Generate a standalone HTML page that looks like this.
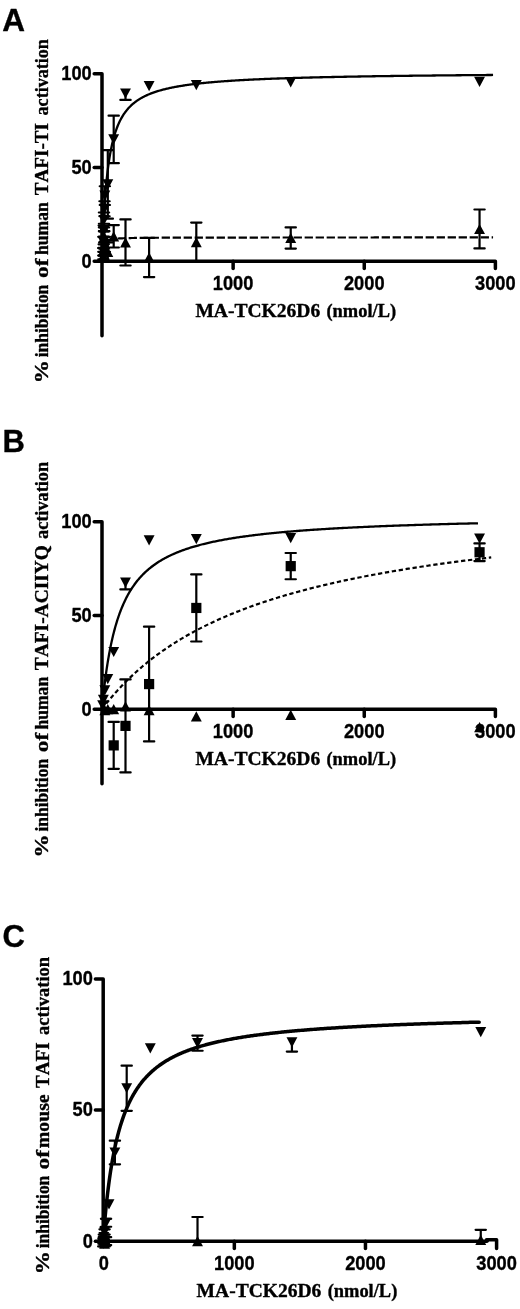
<!DOCTYPE html><html><head><meta charset="utf-8"><title>Figure</title><style>html,body{margin:0;padding:0;background:#fff}svg{display:block;filter:blur(.3px)}text{stroke:#000;stroke-width:.35px;stroke-linejoin:round}</style></head><body>
<svg width="520" height="1309" viewBox="0 0 520 1309">
<rect width="520" height="1309" fill="#fff"/>
<text x="2.2" y="30.5" font-family='"Liberation Sans", Arial, Helvetica, sans-serif' font-weight="bold" font-size="31.5">A</text>
<path d="M94.19,73.85H102.00V335.81" stroke="#000" stroke-width="3.5" fill="none" stroke-linecap="round" stroke-linejoin="round"/>
<path d="M94.19,261.20H495.39V268.51" stroke="#000" stroke-width="3.5" fill="none" stroke-linecap="round" stroke-linejoin="round"/>
<path d="M94.19,167.52H102.00" stroke="#000" stroke-width="3.5" fill="none" stroke-linecap="round" stroke-linejoin="round"/>
<path d="M233.13,261.20V268.51" stroke="#000" stroke-width="3.5" fill="none" stroke-linecap="round" stroke-linejoin="round"/>
<path d="M364.26,261.20V268.51" stroke="#000" stroke-width="3.5" fill="none" stroke-linecap="round" stroke-linejoin="round"/>
<text x="81.55" y="267.65" textLength="10.15" lengthAdjust="spacingAndGlyphs" font-family='"Liberation Sans", Arial, Helvetica, sans-serif' font-weight="bold" font-size="19.5">0</text>
<text x="71.40" y="173.97" textLength="20.30" lengthAdjust="spacingAndGlyphs" font-family='"Liberation Sans", Arial, Helvetica, sans-serif' font-weight="bold" font-size="19.5">50</text>
<text x="61.25" y="80.30" textLength="30.45" lengthAdjust="spacingAndGlyphs" font-family='"Liberation Sans", Arial, Helvetica, sans-serif' font-weight="bold" font-size="19.5">100</text>
<text x="212.83" y="289.70" textLength="40.60" lengthAdjust="spacingAndGlyphs" font-family='"Liberation Sans", Arial, Helvetica, sans-serif' font-weight="bold" font-size="19.5">1000</text>
<text x="343.96" y="289.70" textLength="40.60" lengthAdjust="spacingAndGlyphs" font-family='"Liberation Sans", Arial, Helvetica, sans-serif' font-weight="bold" font-size="19.5">2000</text>
<text x="475.09" y="289.70" textLength="40.60" lengthAdjust="spacingAndGlyphs" font-family='"Liberation Sans", Arial, Helvetica, sans-serif' font-weight="bold" font-size="19.5">3000</text>
<text y="317.30" style="font-kerning:none" font-family='"Liberation Serif", "Times New Roman", Times, serif' font-weight="bold" font-size="17.8"><tspan x="195.40" textLength="124.79" lengthAdjust="spacingAndGlyphs">MA-TCK26D6</tspan> <tspan x="326.46" textLength="69.63" lengthAdjust="spacingAndGlyphs">(nmol/L)</tspan></text>
<text transform="translate(47.9,0) rotate(-90)" y="0" style="font-kerning:none" font-family='"Liberation Serif", "Times New Roman", Times, serif' font-weight="bold" font-size="19.7"><tspan x="-383.31" textLength="23.09" lengthAdjust="spacingAndGlyphs">%</tspan> <tspan x="-357.35" textLength="72.66" lengthAdjust="spacingAndGlyphs">inhibition</tspan> <tspan x="-278.01" textLength="19.61" lengthAdjust="spacingAndGlyphs">of</tspan> <tspan x="-255.05" textLength="52.76" lengthAdjust="spacingAndGlyphs">human</tspan> <tspan x="-195.19" textLength="72.15" lengthAdjust="spacingAndGlyphs">TAFI-TI</tspan> <tspan x="-115.44" textLength="76.35" lengthAdjust="spacingAndGlyphs">activation</tspan></text>
<g fill="#000">
<polyline points="101.90,261.20 101.90,261.13 101.91,260.91 101.92,260.54 101.94,260.03 101.96,259.38 101.99,258.59 102.02,257.67 102.06,256.61 102.10,255.43 102.14,254.13 102.20,252.71 102.25,251.18 102.31,249.54 102.38,247.81 102.45,245.99 102.53,244.09 102.61,242.10 102.69,240.05 102.78,237.93 102.88,235.75 102.98,233.53 103.08,231.26 103.19,228.95 103.31,226.61 103.43,224.24 103.55,221.85 103.68,219.44 103.82,217.03 103.96,214.61 104.10,212.19 104.25,209.77 104.40,207.36 104.56,204.95 104.73,202.57 104.89,200.19 105.07,197.84 105.25,195.51 105.43,193.21 105.62,190.93 105.81,188.68 106.01,186.45 106.21,184.26 106.42,182.11 106.63,179.98 106.85,177.89 107.07,175.84 107.30,173.82 107.53,171.84 107.77,169.89 108.01,167.98 108.26,166.11 108.51,164.27 108.77,162.47 109.03,160.71 109.30,158.98 109.57,157.29 109.84,155.63 110.12,154.01 110.41,152.43 110.70,150.88 111.00,149.36 111.30,147.88 111.60,146.43 111.91,145.01 112.23,143.62 112.55,142.27 112.87,140.95 113.20,139.65 113.54,138.39 113.88,137.15 114.22,135.95 114.57,134.77 114.93,133.62 115.29,132.49 115.65,131.39 116.02,130.32 116.39,129.27 116.77,128.24 117.16,127.24 117.55,126.26 117.94,125.30 118.34,124.37 118.74,123.46 119.15,122.56 119.56,121.69 119.98,120.84 120.40,120.00 120.83,119.19 121.26,118.39 121.70,117.62 122.15,116.85 122.59,116.11 123.04,115.38 123.50,114.67 123.96,113.98 124.43,113.30 124.90,112.63 125.38,111.98 125.86,111.34 126.35,110.72 126.84,110.11 127.34,109.51 127.84,108.93 128.34,108.36 128.85,107.80 129.37,107.25 129.89,106.72 130.42,106.19 130.95,105.68 131.48,105.17 132.02,104.68 132.57,104.20 133.12,103.73 133.67,103.26 134.23,102.81 134.80,102.37 135.37,101.93 135.94,101.50 136.52,101.09 137.10,100.68 137.69,100.27 138.29,99.88 138.89,99.49 139.49,99.12 140.10,98.74 140.71,98.38 141.33,98.02 141.95,97.67 142.58,97.33 143.22,96.99 143.85,96.66 144.50,96.34 145.15,96.02 145.80,95.71 146.46,95.40 147.12,95.10 147.79,94.80 148.46,94.51 149.14,94.23 149.82,93.95 150.50,93.67 151.20,93.40 151.89,93.14 152.59,92.88 153.30,92.62 154.01,92.37 154.73,92.12 155.45,91.88 156.18,91.64 156.91,91.41 157.64,91.17 158.38,90.95 159.13,90.73 159.88,90.51 160.64,90.29 161.40,90.08 162.16,89.87 162.93,89.67 163.71,89.47 164.49,89.27 165.27,89.07 166.06,88.88 166.85,88.69 167.65,88.51 168.46,88.32 169.27,88.15 170.08,87.97 170.90,87.79 171.72,87.62 172.55,87.45 173.39,87.29 174.23,87.13 175.07,86.96 175.92,86.81 176.77,86.65 177.63,86.50 178.49,86.35 179.36,86.20 180.23,86.05 181.11,85.91 181.99,85.76 182.88,85.62 183.77,85.49 184.67,85.35 185.57,85.22 186.48,85.08 187.39,84.95 188.31,84.82 189.23,84.70 190.16,84.57 191.09,84.45 192.02,84.33 192.96,84.21 193.91,84.09 194.86,83.98 195.82,83.86 196.78,83.75 197.74,83.64 198.71,83.53 199.69,83.42 200.67,83.31 201.66,83.21 202.65,83.10 203.64,83.00 204.64,82.90 205.65,82.80 206.66,82.70 207.67,82.60 208.69,82.51 209.71,82.41 210.74,82.32 211.78,82.23 212.82,82.14 213.86,82.05 214.91,81.96 215.96,81.87 217.02,81.79 218.08,81.70 219.15,81.62 220.23,81.53 221.30,81.45 222.39,81.37 223.48,81.29 224.57,81.21 225.67,81.13 226.77,81.06 227.88,80.98 228.99,80.91 230.11,80.83 231.23,80.76 232.35,80.69 233.49,80.61 234.62,80.54 235.77,80.47 236.91,80.41 238.06,80.34 239.22,80.27 240.38,80.20 241.55,80.14 242.72,80.07 243.89,80.01 245.07,79.94 246.26,79.88 247.45,79.82 248.65,79.76 249.85,79.70 251.05,79.64 252.26,79.58 253.48,79.52 254.70,79.46 255.92,79.41 257.15,79.35 258.39,79.29 259.63,79.24 260.87,79.18 262.12,79.13 263.37,79.08 264.63,79.02 265.90,78.97 267.17,78.92 268.44,78.87 269.72,78.82 271.00,78.77 272.29,78.72 273.58,78.67 274.88,78.62 276.18,78.57 277.49,78.52 278.80,78.48 280.12,78.43 281.45,78.39 282.77,78.34 284.11,78.29 285.44,78.25 286.78,78.21 288.13,78.16 289.48,78.12 290.84,78.08 292.20,78.03 293.57,77.99 294.94,77.95 296.32,77.91 297.70,77.87 299.08,77.83 300.48,77.79 301.87,77.75 303.27,77.71 304.68,77.67 306.09,77.64 307.50,77.60 308.92,77.56 310.35,77.52 311.78,77.49 313.21,77.45 314.65,77.41 316.10,77.38 317.55,77.34 319.00,77.31 320.46,77.27 321.93,77.24 323.40,77.21 324.87,77.17 326.35,77.14 327.83,77.11 329.32,77.07 330.82,77.04 332.32,77.01 333.82,76.98 335.33,76.94 336.84,76.91 338.36,76.88 339.88,76.85 341.41,76.82 342.94,76.79 344.48,76.76 346.02,76.73 347.57,76.70 349.12,76.67 350.68,76.65 352.24,76.62 353.81,76.59 355.38,76.56 356.96,76.53 358.54,76.51 360.13,76.48 361.72,76.45 363.32,76.43 364.92,76.40 366.52,76.37 368.13,76.35 369.75,76.32 371.37,76.30 373.00,76.27 374.63,76.25 376.26,76.22 377.90,76.20 379.55,76.17 381.20,76.15 382.85,76.12 384.51,76.10 386.18,76.08 387.85,76.05 389.52,76.03 391.20,76.01 392.89,75.98 394.58,75.96 396.27,75.94 397.97,75.92 399.67,75.89 401.38,75.87 403.10,75.85 404.81,75.83 406.54,75.81 408.27,75.79 410.00,75.76 411.74,75.74 413.48,75.72 415.23,75.70 416.98,75.68 418.74,75.66 420.50,75.64 422.27,75.62 424.04,75.60 425.82,75.58 427.60,75.56 429.39,75.54 431.18,75.53 432.98,75.51 434.78,75.49 436.59,75.47 438.40,75.45 440.21,75.43 442.04,75.41 443.86,75.40 445.69,75.38 447.53,75.36 449.37,75.34 451.22,75.33 453.07,75.31 454.92,75.29 456.78,75.27 458.65,75.26 460.52,75.24 462.39,75.22 464.27,75.21 466.16,75.19 468.05,75.17 469.94,75.16 471.84,75.14 473.75,75.13 475.66,75.11 477.57,75.09 479.49,75.08 481.41,75.06 483.34,75.05 485.28,75.03 487.22,75.02 489.16,75.00 491.11,74.99 493.06,74.97" fill="none" stroke="#000" stroke-width="2.3" stroke-linecap="butt" stroke-linejoin="round"/>
<polyline points="101.90,261.20 101.90,261.13 101.91,260.91 101.92,260.55 101.94,260.07 101.96,259.48 101.99,258.81 102.02,258.06 102.06,257.25 102.10,256.42 102.14,255.56 102.20,254.70 102.25,253.84 102.31,253.01 102.38,252.19 102.45,251.41 102.53,250.66 102.61,249.94 102.69,249.26 102.78,248.62 102.88,248.01 102.98,247.44 103.08,246.91 103.19,246.41 103.31,245.94 103.43,245.49 103.55,245.08 103.68,244.69 103.82,244.33 103.96,243.99 104.10,243.67 104.25,243.38 104.40,243.10 104.56,242.83 104.73,242.59 104.89,242.36 105.07,242.14 105.25,241.94 105.43,241.74 105.62,241.56 105.81,241.39 106.01,241.23 106.21,241.08 106.42,240.93 106.63,240.80 106.85,240.67 107.07,240.55 107.30,240.43 107.53,240.32 107.77,240.22 108.01,240.12 108.26,240.03 108.51,239.94 108.77,239.85 109.03,239.77 109.30,239.69 109.57,239.62 109.84,239.55 110.12,239.48 110.41,239.42 110.70,239.36 111.00,239.30 111.30,239.24 111.60,239.19 111.91,239.14 112.23,239.09 112.55,239.04 112.87,239.00 113.20,238.95 113.54,238.91 113.88,238.87 114.22,238.83 114.57,238.80 114.93,238.76 115.29,238.73 115.65,238.69 116.02,238.66 116.39,238.63 116.77,238.60 117.16,238.57 117.55,238.55 117.94,238.52 118.34,238.49 118.74,238.47 119.15,238.44 119.56,238.42 119.98,238.40 120.40,238.38 120.83,238.36 121.26,238.34 121.70,238.32 122.15,238.30 122.59,238.28 123.04,238.26 123.50,238.24 123.96,238.23 124.43,238.21 124.90,238.19 125.38,238.18 125.86,238.16 126.35,238.15 126.84,238.13 127.34,238.12 127.84,238.11 128.34,238.09 128.85,238.08 129.37,238.07 129.89,238.06 130.42,238.05 130.95,238.03 131.48,238.02 132.02,238.01 132.57,238.00 133.12,237.99 133.67,237.98 134.23,237.97 134.80,237.96 135.37,237.95 135.94,237.94 136.52,237.94 137.10,237.93 137.69,237.92 138.29,237.91 138.89,237.90 139.49,237.89 140.10,237.89 140.71,237.88 141.33,237.87 141.95,237.86 142.58,237.86 143.22,237.85 143.85,237.84 144.50,237.84 145.15,237.83 145.80,237.83 146.46,237.82 147.12,237.81 147.79,237.81 148.46,237.80 149.14,237.80 149.82,237.79 150.50,237.79 151.20,237.78 151.89,237.78 152.59,237.77 153.30,237.77 154.01,237.76 154.73,237.76 155.45,237.75 156.18,237.75 156.91,237.74 157.64,237.74 158.38,237.73 159.13,237.73 159.88,237.73 160.64,237.72 161.40,237.72 162.16,237.71 162.93,237.71 163.71,237.71 164.49,237.70 165.27,237.70 166.06,237.69 166.85,237.69 167.65,237.69 168.46,237.68 169.27,237.68 170.08,237.68 170.90,237.67 171.72,237.67 172.55,237.67 173.39,237.67 174.23,237.66 175.07,237.66 175.92,237.66 176.77,237.65 177.63,237.65 178.49,237.65 179.36,237.65 180.23,237.64 181.11,237.64 181.99,237.64 182.88,237.64 183.77,237.63 184.67,237.63 185.57,237.63 186.48,237.63 187.39,237.62 188.31,237.62 189.23,237.62 190.16,237.62 191.09,237.61 192.02,237.61 192.96,237.61 193.91,237.61 194.86,237.61 195.82,237.60 196.78,237.60 197.74,237.60 198.71,237.60 199.69,237.60 200.67,237.59 201.66,237.59 202.65,237.59 203.64,237.59 204.64,237.59 205.65,237.59 206.66,237.58 207.67,237.58 208.69,237.58 209.71,237.58 210.74,237.58 211.78,237.58 212.82,237.57 213.86,237.57 214.91,237.57 215.96,237.57 217.02,237.57 218.08,237.57 219.15,237.57 220.23,237.56 221.30,237.56 222.39,237.56 223.48,237.56 224.57,237.56 225.67,237.56 226.77,237.56 227.88,237.55 228.99,237.55 230.11,237.55 231.23,237.55 232.35,237.55 233.49,237.55 234.62,237.55 235.77,237.55 236.91,237.54 238.06,237.54 239.22,237.54 240.38,237.54 241.55,237.54 242.72,237.54 243.89,237.54 245.07,237.54 246.26,237.54 247.45,237.53 248.65,237.53 249.85,237.53 251.05,237.53 252.26,237.53 253.48,237.53 254.70,237.53 255.92,237.53 257.15,237.53 258.39,237.53 259.63,237.52 260.87,237.52 262.12,237.52 263.37,237.52 264.63,237.52 265.90,237.52 267.17,237.52 268.44,237.52 269.72,237.52 271.00,237.52 272.29,237.52 273.58,237.52 274.88,237.51 276.18,237.51 277.49,237.51 278.80,237.51 280.12,237.51 281.45,237.51 282.77,237.51 284.11,237.51 285.44,237.51 286.78,237.51 288.13,237.51 289.48,237.51 290.84,237.51 292.20,237.50 293.57,237.50 294.94,237.50 296.32,237.50 297.70,237.50 299.08,237.50 300.48,237.50 301.87,237.50 303.27,237.50 304.68,237.50 306.09,237.50 307.50,237.50 308.92,237.50 310.35,237.50 311.78,237.50 313.21,237.49 314.65,237.49 316.10,237.49 317.55,237.49 319.00,237.49 320.46,237.49 321.93,237.49 323.40,237.49 324.87,237.49 326.35,237.49 327.83,237.49 329.32,237.49 330.82,237.49 332.32,237.49 333.82,237.49 335.33,237.49 336.84,237.49 338.36,237.49 339.88,237.48 341.41,237.48 342.94,237.48 344.48,237.48 346.02,237.48 347.57,237.48 349.12,237.48 350.68,237.48 352.24,237.48 353.81,237.48 355.38,237.48 356.96,237.48 358.54,237.48 360.13,237.48 361.72,237.48 363.32,237.48 364.92,237.48 366.52,237.48 368.13,237.48 369.75,237.48 371.37,237.48 373.00,237.48 374.63,237.47 376.26,237.47 377.90,237.47 379.55,237.47 381.20,237.47 382.85,237.47 384.51,237.47 386.18,237.47 387.85,237.47 389.52,237.47 391.20,237.47 392.89,237.47 394.58,237.47 396.27,237.47 397.97,237.47 399.67,237.47 401.38,237.47 403.10,237.47 404.81,237.47 406.54,237.47 408.27,237.47 410.00,237.47 411.74,237.47 413.48,237.47 415.23,237.47 416.98,237.47 418.74,237.47 420.50,237.47 422.27,237.46 424.04,237.46 425.82,237.46 427.60,237.46 429.39,237.46 431.18,237.46 432.98,237.46 434.78,237.46 436.59,237.46 438.40,237.46 440.21,237.46 442.04,237.46 443.86,237.46 445.69,237.46 447.53,237.46 449.37,237.46 451.22,237.46 453.07,237.46 454.92,237.46 456.78,237.46 458.65,237.46 460.52,237.46 462.39,237.46 464.27,237.46 466.16,237.46 468.05,237.46 469.94,237.46 471.84,237.46 473.75,237.46 475.66,237.46 477.57,237.46 479.49,237.46 481.41,237.46 483.34,237.46 485.28,237.46 487.22,237.46 489.16,237.45 491.11,237.45 493.06,237.45" fill="none" stroke="#000" stroke-width="2.2" stroke-dasharray="8.3 2.7" stroke-linecap="butt" stroke-linejoin="round"/>
<polygon points="474.10,76.81 485.00,76.81 479.55,87.01"/>
<polygon points="285.28,77.18 296.18,77.18 290.73,87.38"/>
<polygon points="190.86,79.99 201.76,79.99 196.31,90.19"/>
<polygon points="143.66,81.12 154.56,81.12 149.11,91.32"/>
<path d="M125.50,93.52V99.89M120.35,99.89h10.3" fill="none" stroke="#000" stroke-width="2.2" stroke-linecap="round"/>
<polygon points="120.05,88.42 130.95,88.42 125.50,98.62"/>
<path d="M113.70,115.63V163.22M108.55,115.63h10.3M108.55,163.22h10.3" fill="none" stroke="#000" stroke-width="2.2" stroke-linecap="round"/>
<polygon points="108.25,134.32 119.15,134.32 113.70,144.52"/>
<path d="M107.80,150.10V218.67M102.65,150.10h10.3M102.65,218.67h10.3" fill="none" stroke="#000" stroke-width="2.2" stroke-linecap="round"/>
<polygon points="102.35,179.29 113.25,179.29 107.80,189.49"/>
<path d="M104.85,186.26V205.00M99.70,186.26h10.3M99.70,205.00h10.3" fill="none" stroke="#000" stroke-width="2.2" stroke-linecap="round"/>
<polygon points="99.40,190.53 110.30,190.53 104.85,200.73"/>
<path d="M104.52,201.25V216.24M99.37,201.25h10.3M99.37,216.24h10.3" fill="none" stroke="#000" stroke-width="2.2" stroke-linecap="round"/>
<polygon points="99.07,203.64 109.97,203.64 104.52,213.84"/>
<path d="M104.00,212.49V227.48M98.85,212.49h10.3M98.85,227.48h10.3" fill="none" stroke="#000" stroke-width="2.2" stroke-linecap="round"/>
<polygon points="98.55,214.88 109.45,214.88 104.00,225.08"/>
<path d="M103.74,225.60V236.84M98.59,225.60h10.3M98.59,236.84h10.3" fill="none" stroke="#000" stroke-width="2.2" stroke-linecap="round"/>
<polygon points="98.29,226.12 109.19,226.12 103.74,236.32"/>
<path d="M103.47,236.84V248.09M98.32,236.84h10.3M98.32,248.09h10.3" fill="none" stroke="#000" stroke-width="2.2" stroke-linecap="round"/>
<polygon points="98.02,237.36 108.92,237.36 103.47,247.56"/>
<path d="M103.38,248.09V255.58M98.23,248.09h10.3M98.23,255.58h10.3" fill="none" stroke="#000" stroke-width="2.2" stroke-linecap="round"/>
<polygon points="97.93,246.73 108.83,246.73 103.38,256.93"/>
<path d="M479.55,209.49V248.46M474.40,209.49h10.3M474.40,248.46h10.3" fill="none" stroke="#000" stroke-width="2.2" stroke-linecap="round"/>
<polygon points="474.10,234.08 485.00,234.08 479.55,223.88"/>
<path d="M290.73,227.38V248.55M285.58,227.38h10.3M285.58,248.55h10.3" fill="none" stroke="#000" stroke-width="2.2" stroke-linecap="round"/>
<polygon points="285.28,243.07 296.18,243.07 290.73,232.87"/>
<path d="M196.31,222.61V261.57M191.16,222.61h10.3M191.16,261.57h10.3" fill="none" stroke="#000" stroke-width="2.2" stroke-linecap="round"/>
<polygon points="190.86,247.19 201.76,247.19 196.31,236.99"/>
<path d="M149.11,237.78V277.12M143.96,237.78h10.3M143.96,277.12h10.3" fill="none" stroke="#000" stroke-width="2.2" stroke-linecap="round"/>
<polygon points="143.66,262.55 154.56,262.55 149.11,252.35"/>
<path d="M125.50,219.42V265.51M120.35,219.42h10.3M120.35,265.51h10.3" fill="none" stroke="#000" stroke-width="2.2" stroke-linecap="round"/>
<polygon points="120.05,247.56 130.95,247.56 125.50,237.36"/>
<path d="M113.70,225.04V247.52M108.55,225.04h10.3M108.55,247.52h10.3" fill="none" stroke="#000" stroke-width="2.2" stroke-linecap="round"/>
<polygon points="108.25,241.38 119.15,241.38 113.70,231.18"/>
<path d="M107.80,242.46V261.20M102.65,242.46h10.3M102.65,261.20h10.3" fill="none" stroke="#000" stroke-width="2.2" stroke-linecap="round"/>
<polygon points="102.35,256.93 113.25,256.93 107.80,246.73"/>
<path d="M104.85,236.84V251.83M99.70,236.84h10.3M99.70,251.83h10.3" fill="none" stroke="#000" stroke-width="2.2" stroke-linecap="round"/>
<polygon points="99.40,249.44 110.30,249.44 104.85,239.24"/>
<path d="M104.26,231.22V242.46M99.11,231.22h10.3M99.11,242.46h10.3" fill="none" stroke="#000" stroke-width="2.2" stroke-linecap="round"/>
<polygon points="98.81,241.94 109.71,241.94 104.26,231.74"/>
<path d="M103.74,244.34V255.58M98.59,244.34h10.3M98.59,255.58h10.3" fill="none" stroke="#000" stroke-width="2.2" stroke-linecap="round"/>
<polygon points="98.29,255.06 109.19,255.06 103.74,244.86"/>
<path d="M103.38,251.83V259.33M98.23,251.83h10.3M98.23,259.33h10.3" fill="none" stroke="#000" stroke-width="2.2" stroke-linecap="round"/>
<polygon points="97.93,260.68 108.83,260.68 103.38,250.48"/>
<path d="M104.00,223.73V231.22M98.85,223.73h10.3M98.85,231.22h10.3" fill="none" stroke="#000" stroke-width="2.2" stroke-linecap="round"/>
<polygon points="98.55,232.58 109.45,232.58 104.00,222.38"/>
</g>
<text x="2.6" y="452.0" font-family='"Liberation Sans", Arial, Helvetica, sans-serif' font-weight="bold" font-size="31">B</text>
<path d="M94.19,521.70H102.00V783.81" stroke="#000" stroke-width="3.5" fill="none" stroke-linecap="round" stroke-linejoin="round"/>
<path d="M94.19,709.20H495.39V716.51" stroke="#000" stroke-width="3.5" fill="none" stroke-linecap="round" stroke-linejoin="round"/>
<path d="M94.19,615.45H102.00" stroke="#000" stroke-width="3.5" fill="none" stroke-linecap="round" stroke-linejoin="round"/>
<path d="M233.13,709.20V716.51" stroke="#000" stroke-width="3.5" fill="none" stroke-linecap="round" stroke-linejoin="round"/>
<path d="M364.26,709.20V716.51" stroke="#000" stroke-width="3.5" fill="none" stroke-linecap="round" stroke-linejoin="round"/>
<text x="81.55" y="715.65" textLength="10.15" lengthAdjust="spacingAndGlyphs" font-family='"Liberation Sans", Arial, Helvetica, sans-serif' font-weight="bold" font-size="19.5">0</text>
<text x="71.40" y="621.90" textLength="20.30" lengthAdjust="spacingAndGlyphs" font-family='"Liberation Sans", Arial, Helvetica, sans-serif' font-weight="bold" font-size="19.5">50</text>
<text x="61.25" y="528.15" textLength="30.45" lengthAdjust="spacingAndGlyphs" font-family='"Liberation Sans", Arial, Helvetica, sans-serif' font-weight="bold" font-size="19.5">100</text>
<text x="212.83" y="737.70" textLength="40.60" lengthAdjust="spacingAndGlyphs" font-family='"Liberation Sans", Arial, Helvetica, sans-serif' font-weight="bold" font-size="19.5">1000</text>
<text x="343.96" y="737.70" textLength="40.60" lengthAdjust="spacingAndGlyphs" font-family='"Liberation Sans", Arial, Helvetica, sans-serif' font-weight="bold" font-size="19.5">2000</text>
<text x="475.09" y="737.70" textLength="40.60" lengthAdjust="spacingAndGlyphs" font-family='"Liberation Sans", Arial, Helvetica, sans-serif' font-weight="bold" font-size="19.5">3000</text>
<text y="765.30" style="font-kerning:none" font-family='"Liberation Serif", "Times New Roman", Times, serif' font-weight="bold" font-size="17.8"><tspan x="195.40" textLength="124.79" lengthAdjust="spacingAndGlyphs">MA-TCK26D6</tspan> <tspan x="326.46" textLength="69.63" lengthAdjust="spacingAndGlyphs">(nmol/L)</tspan></text>
<text transform="translate(47.9,0) rotate(-90)" y="0" style="font-kerning:none" font-family='"Liberation Serif", "Times New Roman", Times, serif' font-weight="bold" font-size="19.7"><tspan x="-857.61" textLength="23.09" lengthAdjust="spacingAndGlyphs">%</tspan> <tspan x="-831.55" textLength="72.66" lengthAdjust="spacingAndGlyphs">inhibition</tspan> <tspan x="-752.31" textLength="19.61" lengthAdjust="spacingAndGlyphs">of</tspan> <tspan x="-729.45" textLength="52.56" lengthAdjust="spacingAndGlyphs">human</tspan> <tspan x="-670.19" textLength="125.03" lengthAdjust="spacingAndGlyphs">TAFI-ACIIYQ</tspan> <tspan x="-538.95" textLength="77.06" lengthAdjust="spacingAndGlyphs">activation</tspan></text>
<g fill="#000">
<polyline points="101.90,709.20 101.90,709.18 101.91,709.10 101.92,708.98 101.94,708.80 101.96,708.58 101.98,708.31 102.02,707.98 102.05,707.62 102.09,707.20 102.14,706.73 102.18,706.23 102.24,705.67 102.30,705.07 102.36,704.43 102.43,703.74 102.50,703.01 102.58,702.24 102.66,701.43 102.75,700.59 102.84,699.70 102.94,698.78 103.04,697.82 103.14,696.83 103.25,695.81 103.37,694.75 103.49,693.67 103.61,692.55 103.74,691.41 103.88,690.24 104.02,689.05 104.16,687.84 104.31,686.60 104.46,685.34 104.62,684.06 104.78,682.76 104.95,681.45 105.12,680.12 105.29,678.77 105.48,677.42 105.66,676.04 105.85,674.66 106.05,673.27 106.25,671.87 106.45,670.47 106.66,669.05 106.87,667.63 107.09,666.21 107.32,664.78 107.54,663.35 107.78,661.92 108.01,660.48 108.26,659.05 108.50,657.62 108.75,656.19 109.01,654.76 109.27,653.33 109.54,651.91 109.81,650.50 110.08,649.08 110.36,647.68 110.65,646.28 110.94,644.88 111.23,643.50 111.53,642.12 111.83,640.75 112.14,639.38 112.45,638.03 112.77,636.68 113.09,635.35 113.42,634.02 113.75,632.71 114.09,631.41 114.43,630.11 114.77,628.83 115.12,627.56 115.48,626.30 115.84,625.05 116.20,623.81 116.57,622.59 116.94,621.38 117.32,620.18 117.70,618.99 118.09,617.81 118.49,616.65 118.88,615.50 119.28,614.36 119.69,613.23 120.10,612.12 120.52,611.01 120.94,609.92 121.36,608.85 121.79,607.78 122.23,606.73 122.67,605.69 123.11,604.67 123.56,603.65 124.02,602.65 124.47,601.66 124.94,600.68 125.41,599.71 125.88,598.76 126.35,597.82 126.84,596.89 127.32,595.97 127.81,595.06 128.31,594.16 128.81,593.28 129.32,592.41 129.83,591.54 130.34,590.69 130.86,589.85 131.38,589.03 131.91,588.21 132.45,587.40 132.99,586.60 133.53,585.82 134.08,585.04 134.63,584.27 135.19,583.52 135.75,582.77 136.31,582.04 136.88,581.31 137.46,580.59 138.04,579.89 138.63,579.19 139.22,578.50 139.81,577.82 140.41,577.15 141.01,576.49 141.62,575.83 142.24,575.19 142.86,574.55 143.48,573.93 144.11,573.31 144.74,572.70 145.37,572.10 146.02,571.50 146.66,570.91 147.31,570.33 147.97,569.76 148.63,569.20 149.30,568.64 149.97,568.09 150.64,567.55 151.32,567.02 152.00,566.49 152.69,565.97 153.39,565.46 154.08,564.95 154.79,564.45 155.49,563.95 156.21,563.47 156.92,562.98 157.64,562.51 158.37,562.04 159.10,561.58 159.84,561.12 160.58,560.67 161.32,560.22 162.07,559.79 162.83,559.35 163.59,558.92 164.35,558.50 165.12,558.08 165.89,557.67 166.67,557.26 167.45,556.86 168.24,556.47 169.03,556.07 169.83,555.69 170.63,555.31 171.44,554.93 172.25,554.56 173.06,554.19 173.88,553.83 174.71,553.47 175.54,553.11 176.37,552.76 177.21,552.42 178.06,552.08 178.90,551.74 179.76,551.41 180.62,551.08 181.48,550.75 182.35,550.43 183.22,550.11 184.09,549.80 184.98,549.49 185.86,549.19 186.75,548.88 187.65,548.59 188.55,548.29 189.45,548.00 190.36,547.71 191.28,547.43 192.20,547.15 193.12,546.87 194.05,546.59 194.98,546.32 195.92,546.06 196.86,545.79 197.81,545.53 198.76,545.27 199.72,545.01 200.68,544.76 201.65,544.51 202.62,544.26 203.59,544.02 204.57,543.78 205.56,543.54 206.55,543.30 207.54,543.07 208.54,542.84 209.54,542.61 210.55,542.39 211.57,542.16 212.58,541.94 213.61,541.72 214.63,541.51 215.66,541.29 216.70,541.08 217.74,540.88 218.79,540.67 219.84,540.47 220.89,540.26 221.95,540.06 223.02,539.87 224.09,539.67 225.16,539.48 226.24,539.29 227.33,539.10 228.41,538.91 229.51,538.73 230.60,538.54 231.71,538.36 232.81,538.18 233.93,538.00 235.04,537.83 236.16,537.66 237.29,537.48 238.42,537.31 239.55,537.15 240.69,536.98 241.84,536.81 242.99,536.65 244.14,536.49 245.30,536.33 246.47,536.17 247.63,536.02 248.81,535.86 249.98,535.71 251.17,535.56 252.35,535.41 253.55,535.26 254.74,535.11 255.94,534.96 257.15,534.82 258.36,534.68 259.57,534.54 260.79,534.40 262.02,534.26 263.25,534.12 264.48,533.98 265.72,533.85 266.96,533.72 268.21,533.59 269.47,533.45 270.72,533.33 271.98,533.20 273.25,533.07 274.52,532.94 275.80,532.82 277.08,532.70 278.37,532.57 279.66,532.45 280.95,532.33 282.25,532.22 283.56,532.10 284.87,531.98 286.18,531.87 287.50,531.75 288.82,531.64 290.15,531.53 291.48,531.42 292.82,531.31 294.16,531.20 295.51,531.09 296.86,530.98 298.22,530.88 299.58,530.77 300.94,530.67 302.31,530.56 303.69,530.46 305.07,530.36 306.45,530.26 307.84,530.16 309.24,530.06 310.63,529.96 312.04,529.87 313.45,529.77 314.86,529.68 316.28,529.58 317.70,529.49 319.12,529.40 320.56,529.30 321.99,529.21 323.43,529.12 324.88,529.03 326.33,528.94 327.78,528.86 329.24,528.77 330.71,528.68 332.18,528.60 333.65,528.51 335.13,528.43 336.61,528.35 338.10,528.26 339.59,528.18 341.09,528.10 342.59,528.02 344.10,527.94 345.61,527.86 347.13,527.78 348.65,527.70 350.17,527.63 351.70,527.55 353.24,527.47 354.78,527.40 356.32,527.32 357.87,527.25 359.42,527.18 360.98,527.10 362.55,527.03 364.11,526.96 365.69,526.89 367.26,526.82 368.84,526.75 370.43,526.68 372.02,526.61 373.62,526.54 375.22,526.47 376.82,526.41 378.43,526.34 380.05,526.27 381.67,526.21 383.29,526.14 384.92,526.08 386.56,526.01 388.19,525.95 389.84,525.89 391.48,525.83 393.14,525.76 394.79,525.70 396.46,525.64 398.12,525.58 399.79,525.52 401.47,525.46 403.15,525.40 404.84,525.34 406.53,525.28 408.22,525.23 409.92,525.17 411.62,525.11 413.33,525.05 415.05,525.00 416.76,524.94 418.49,524.89 420.21,524.83 421.95,524.78 423.68,524.72 425.43,524.67 427.17,524.62 428.92,524.56 430.68,524.51 432.44,524.46 434.21,524.41 435.97,524.36 437.75,524.31 439.53,524.26 441.31,524.21 443.10,524.16 444.90,524.11 446.69,524.06 448.50,524.01 450.30,523.96 452.12,523.91 453.93,523.87 455.75,523.82 457.58,523.77 459.41,523.72 461.25,523.68 463.09,523.63 464.93,523.59 466.78,523.54 468.64,523.50 470.50,523.45 472.36,523.41 474.23,523.36 476.10,523.32 477.98,523.28" fill="none" stroke="#000" stroke-width="2.3" stroke-linecap="butt" stroke-linejoin="round"/>
<polyline points="101.90,709.20 101.90,709.20 101.91,709.19 101.92,709.17 101.94,709.15 101.96,709.12 101.99,709.08 102.02,709.04 102.06,709.00 102.10,708.94 102.14,708.88 102.19,708.81 102.25,708.74 102.31,708.66 102.38,708.57 102.45,708.48 102.52,708.38 102.60,708.28 102.69,708.17 102.78,708.05 102.87,707.93 102.97,707.80 103.08,707.66 103.19,707.52 103.30,707.37 103.42,707.22 103.54,707.06 103.67,706.89 103.81,706.72 103.95,706.54 104.09,706.36 104.24,706.17 104.39,705.97 104.55,705.77 104.71,705.56 104.88,705.35 105.05,705.13 105.23,704.91 105.41,704.67 105.60,704.44 105.79,704.20 105.99,703.95 106.19,703.70 106.40,703.44 106.61,703.18 106.83,702.91 107.05,702.63 107.28,702.35 107.51,702.07 107.74,701.78 107.98,701.48 108.23,701.18 108.48,700.88 108.74,700.57 109.00,700.25 109.26,699.93 109.53,699.61 109.81,699.28 110.09,698.94 110.37,698.60 110.66,698.26 110.95,697.91 111.25,697.56 111.56,697.20 111.87,696.84 112.18,696.47 112.50,696.10 112.82,695.73 113.15,695.35 113.48,694.97 113.82,694.58 114.17,694.19 114.51,693.79 114.87,693.39 115.22,692.99 115.59,692.58 115.95,692.17 116.33,691.76 116.70,691.34 117.09,690.92 117.47,690.49 117.86,690.06 118.26,689.63 118.66,689.19 119.07,688.76 119.48,688.31 119.90,687.87 120.32,687.42 120.74,686.97 121.17,686.51 121.61,686.06 122.05,685.59 122.50,685.13 122.95,684.67 123.40,684.20 123.86,683.72 124.33,683.25 124.79,682.77 125.27,682.29 125.75,681.81 126.23,681.33 126.72,680.84 127.22,680.35 127.71,679.86 128.22,679.37 128.73,678.87 129.24,678.38 129.76,677.88 130.28,677.37 130.81,676.87 131.34,676.37 131.88,675.86 132.42,675.35 132.97,674.84 133.52,674.33 134.08,673.81 134.64,673.30 135.21,672.78 135.78,672.26 136.36,671.75 136.94,671.22 137.53,670.70 138.12,670.18 138.71,669.65 139.31,669.13 139.92,668.60 140.53,668.07 141.15,667.55 141.77,667.02 142.39,666.49 143.02,665.95 143.66,665.42 144.30,664.89 144.94,664.35 145.59,663.82 146.25,663.28 146.91,662.75 147.57,662.21 148.24,661.68 148.91,661.14 149.59,660.60 150.28,660.06 150.96,659.53 151.66,658.99 152.36,658.45 153.06,657.91 153.77,657.37 154.48,656.83 155.20,656.29 155.92,655.75 156.65,655.21 157.38,654.67 158.12,654.13 158.86,653.59 159.61,653.05 160.36,652.51 161.12,651.98 161.88,651.44 162.64,650.90 163.42,650.36 164.19,649.82 164.97,649.28 165.76,648.75 166.55,648.21 167.35,647.67 168.15,647.14 168.95,646.60 169.76,646.07 170.58,645.53 171.40,645.00 172.22,644.47 173.05,643.93 173.89,643.40 174.73,642.87 175.57,642.34 176.42,641.81 177.27,641.28 178.13,640.75 179.00,640.22 179.86,639.70 180.74,639.17 181.62,638.65 182.50,638.12 183.39,637.60 184.28,637.08 185.18,636.56 186.08,636.04 186.99,635.52 187.90,635.00 188.82,634.48 189.74,633.96 190.67,633.45 191.60,632.94 192.54,632.42 193.48,631.91 194.43,631.40 195.38,630.89 196.33,630.38 197.29,629.88 198.26,629.37 199.23,628.86 200.21,628.36 201.19,627.86 202.17,627.36 203.16,626.86 204.16,626.36 205.16,625.86 206.16,625.37 207.17,624.87 208.19,624.38 209.21,623.89 210.23,623.40 211.26,622.91 212.30,622.42 213.33,621.94 214.38,621.45 215.43,620.97 216.48,620.49 217.54,620.00 218.60,619.53 219.67,619.05 220.74,618.57 221.82,618.10 222.90,617.62 223.99,617.15 225.08,616.68 226.18,616.21 227.28,615.75 228.39,615.28 229.50,614.82 230.62,614.35 231.74,613.89 232.87,613.43 234.00,612.97 235.14,612.52 236.28,612.06 237.42,611.61 238.57,611.16 239.73,610.71 240.89,610.26 242.06,609.81 243.23,609.36 244.40,608.92 245.58,608.48 246.77,608.04 247.96,607.60 249.15,607.16 250.35,606.72 251.56,606.29 252.77,605.86 253.98,605.42 255.20,604.99 256.42,604.57 257.65,604.14 258.89,603.71 260.12,603.29 261.37,602.87 262.62,602.45 263.87,602.03 265.13,601.61 266.39,601.20 267.66,600.78 268.93,600.37 270.21,599.96 271.49,599.55 272.78,599.14 274.07,598.74 275.37,598.33 276.67,597.93 277.97,597.53 279.29,597.13 280.60,596.73 281.92,596.34 283.25,595.94 284.58,595.55 285.92,595.16 287.26,594.77 288.60,594.38 289.95,593.99 291.31,593.61 292.67,593.22 294.03,592.84 295.40,592.46 296.78,592.08 298.16,591.71 299.54,591.33 300.93,590.96 302.33,590.58 303.73,590.21 305.13,589.84 306.54,589.47 307.95,589.11 309.37,588.74 310.79,588.38 312.22,588.02 313.66,587.66 315.09,587.30 316.54,586.94 317.99,586.59 319.44,586.23 320.90,585.88 322.36,585.53 323.82,585.18 325.30,584.83 326.77,584.48 328.26,584.14 329.74,583.79 331.23,583.45 332.73,583.11 334.23,582.77 335.74,582.43 337.25,582.10 338.77,581.76 340.29,581.43 341.81,581.10 343.34,580.77 344.88,580.44 346.42,580.11 347.96,579.78 349.51,579.46 351.07,579.14 352.63,578.81 354.19,578.49 355.76,578.17 357.34,577.86 358.92,577.54 360.50,577.23 362.09,576.91 363.68,576.60 365.28,576.29 366.88,575.98 368.49,575.67 370.11,575.37 371.72,575.06 373.35,574.76 374.97,574.46 376.61,574.15 378.25,573.85 379.89,573.56 381.54,573.26 383.19,572.96 384.84,572.67 386.51,572.38 388.17,572.08 389.84,571.79 391.52,571.50 393.20,571.22 394.89,570.93 396.58,570.64 398.28,570.36 399.98,570.08 401.68,569.80 403.39,569.52 405.11,569.24 406.83,568.96 408.55,568.68 410.28,568.41 412.02,568.13 413.76,567.86 415.50,567.59 417.25,567.32 419.01,567.05 420.77,566.78 422.53,566.52 424.30,566.25 426.07,565.99 427.85,565.72 429.64,565.46 431.42,565.20 433.22,564.94 435.02,564.68 436.82,564.43 438.63,564.17 440.44,563.92 442.26,563.66 444.08,563.41 445.91,563.16 447.74,562.91 449.58,562.66 451.42,562.41 453.27,562.17 455.12,561.92 456.97,561.68 458.84,561.43 460.70,561.19 462.57,560.95 464.45,560.71 466.33,560.47 468.22,560.23 470.11,560.00 472.00,559.76 473.90,559.53 475.81,559.29 477.72,559.06 479.63,558.83 481.55,558.60 483.48,558.37 485.41,558.14 487.34,557.91 489.28,557.69 491.22,557.46" fill="none" stroke="#000" stroke-width="2.2" stroke-dasharray="4.3 2.7" stroke-linecap="butt" stroke-linejoin="round"/>
<polygon points="474.10,533.48 485.00,533.48 479.55,543.68"/>
<polygon points="285.28,533.10 296.18,533.10 290.73,543.30"/>
<polygon points="190.86,534.04 201.76,534.04 196.31,544.24"/>
<polygon points="143.66,535.35 154.56,535.35 149.11,545.55"/>
<path d="M125.50,582.64V589.39M120.35,589.39h10.3" fill="none" stroke="#000" stroke-width="2.2" stroke-linecap="round"/>
<polygon points="120.05,577.54 130.95,577.54 125.50,587.74"/>
<polygon points="108.25,646.91 119.15,646.91 113.70,657.11"/>
<polygon points="102.35,674.10 113.25,674.10 107.80,684.30"/>
<polygon points="99.40,685.35 110.30,685.35 104.85,695.55"/>
<polygon points="97.93,694.73 108.83,694.73 103.38,704.93"/>
<polygon points="97.18,700.35 108.08,700.35 102.63,710.55"/>
<path d="M479.55,543.45V561.08M474.40,543.45h10.3M474.40,561.08h10.3" fill="none" stroke="#000" stroke-width="2.2" stroke-linecap="round"/>
<rect x="474.45" y="547.16" width="10.2" height="10.2"/>
<path d="M290.73,553.01V579.26M285.58,553.01h10.3M285.58,579.26h10.3" fill="none" stroke="#000" stroke-width="2.2" stroke-linecap="round"/>
<rect x="285.63" y="561.04" width="10.2" height="10.2"/>
<path d="M196.31,574.39V641.51M191.16,574.39h10.3M191.16,641.51h10.3" fill="none" stroke="#000" stroke-width="2.2" stroke-linecap="round"/>
<rect x="191.21" y="602.85" width="10.2" height="10.2"/>
<path d="M149.11,626.70V741.45M143.96,626.70h10.3M143.96,741.45h10.3" fill="none" stroke="#000" stroke-width="2.2" stroke-linecap="round"/>
<rect x="144.01" y="678.98" width="10.2" height="10.2"/>
<path d="M125.50,679.39V772.39M120.35,679.39h10.3M120.35,772.39h10.3" fill="none" stroke="#000" stroke-width="2.2" stroke-linecap="round"/>
<rect x="120.40" y="720.79" width="10.2" height="10.2"/>
<path d="M113.70,721.95V768.83M108.55,721.95h10.3M108.55,768.83h10.3" fill="none" stroke="#000" stroke-width="2.2" stroke-linecap="round"/>
<rect x="108.60" y="740.29" width="10.2" height="10.2"/>
<polygon points="474.10,732.30 485.00,732.30 479.55,722.10"/>
<polygon points="285.28,719.93 296.18,719.93 290.73,709.73"/>
<polygon points="190.86,721.43 201.76,721.43 196.31,711.23"/>
<polygon points="143.66,715.24 154.56,715.24 149.11,705.04"/>
<polygon points="120.05,711.49 130.95,711.49 125.50,701.29"/>
<polygon points="108.25,714.30 119.15,714.30 113.70,704.10"/>
<polygon points="102.35,714.30 113.25,714.30 107.80,704.10"/>
<polygon points="99.40,715.24 110.30,715.24 104.85,705.04"/>
</g>
<text x="2.6" y="946.6" font-family='"Liberation Sans", Arial, Helvetica, sans-serif' font-weight="bold" font-size="31">C</text>
<path d="M95.39,978.90H103.20V1241.41" stroke="#000" stroke-width="3.5" fill="none" stroke-linecap="round" stroke-linejoin="round"/>
<path d="M95.39,1241.15H487.00" stroke="#000" stroke-width="3.5" fill="none" stroke-linecap="round"/>
<path d="M486.50,1239.65H496.59V1248.46" stroke="#000" stroke-width="3.5" fill="none" stroke-linecap="round" stroke-linejoin="round"/>
<path d="M95.39,1110.03H103.20" stroke="#000" stroke-width="3.5" fill="none" stroke-linecap="round" stroke-linejoin="round"/>
<path d="M234.33,1241.15V1248.46" stroke="#000" stroke-width="3.5" fill="none" stroke-linecap="round" stroke-linejoin="round"/>
<path d="M365.46,1241.15V1248.46" stroke="#000" stroke-width="3.5" fill="none" stroke-linecap="round" stroke-linejoin="round"/>
<text x="82.75" y="1247.60" textLength="10.15" lengthAdjust="spacingAndGlyphs" font-family='"Liberation Sans", Arial, Helvetica, sans-serif' font-weight="bold" font-size="19.5">0</text>
<text x="72.60" y="1116.48" textLength="20.30" lengthAdjust="spacingAndGlyphs" font-family='"Liberation Sans", Arial, Helvetica, sans-serif' font-weight="bold" font-size="19.5">50</text>
<text x="62.45" y="985.35" textLength="30.45" lengthAdjust="spacingAndGlyphs" font-family='"Liberation Sans", Arial, Helvetica, sans-serif' font-weight="bold" font-size="19.5">100</text>
<text x="214.03" y="1269.65" textLength="40.60" lengthAdjust="spacingAndGlyphs" font-family='"Liberation Sans", Arial, Helvetica, sans-serif' font-weight="bold" font-size="19.5">1000</text>
<text x="345.16" y="1269.65" textLength="40.60" lengthAdjust="spacingAndGlyphs" font-family='"Liberation Sans", Arial, Helvetica, sans-serif' font-weight="bold" font-size="19.5">2000</text>
<text x="476.29" y="1269.65" textLength="40.60" lengthAdjust="spacingAndGlyphs" font-family='"Liberation Sans", Arial, Helvetica, sans-serif' font-weight="bold" font-size="19.5">3000</text>
<text x="98.63" y="1270.35" textLength="10.15" lengthAdjust="spacingAndGlyphs" font-family='"Liberation Sans", Arial, Helvetica, sans-serif' font-weight="bold" font-size="19.5">0</text>
<text y="1297.25" style="font-kerning:none" font-family='"Liberation Serif", "Times New Roman", Times, serif' font-weight="bold" font-size="17.8"><tspan x="196.60" textLength="124.79" lengthAdjust="spacingAndGlyphs">MA-TCK26D6</tspan> <tspan x="327.66" textLength="69.63" lengthAdjust="spacingAndGlyphs">(nmol/L)</tspan></text>
<text transform="translate(48.9,0) rotate(-90)" y="0" style="font-kerning:none" font-family='"Liberation Serif", "Times New Roman", Times, serif' font-weight="bold" font-size="19.7"><tspan x="-1274.31" textLength="23.09" lengthAdjust="spacingAndGlyphs">%</tspan> <tspan x="-1248.35" textLength="72.66" lengthAdjust="spacingAndGlyphs">inhibition</tspan> <tspan x="-1169.51" textLength="19.61" lengthAdjust="spacingAndGlyphs">of</tspan> <tspan x="-1148.20" textLength="53.77" lengthAdjust="spacingAndGlyphs">mouse</tspan> <tspan x="-1088.09" textLength="45.65" lengthAdjust="spacingAndGlyphs">TAFI</tspan> <tspan x="-1034.95" textLength="78.07" lengthAdjust="spacingAndGlyphs">activation</tspan></text>
<g fill="#000">
<polyline points="103.10,1241.15 103.10,1241.12 103.11,1241.02 103.12,1240.87 103.14,1240.65 103.16,1240.36 103.18,1240.02 103.22,1239.61 103.25,1239.15 103.29,1238.62 103.34,1238.04 103.38,1237.39 103.44,1236.69 103.50,1235.94 103.56,1235.13 103.63,1234.26 103.70,1233.34 103.78,1232.38 103.86,1231.36 103.95,1230.29 104.04,1229.18 104.14,1228.03 104.24,1226.83 104.34,1225.59 104.45,1224.30 104.57,1222.99 104.69,1221.63 104.81,1220.24 104.94,1218.82 105.08,1217.36 105.22,1215.88 105.36,1214.36 105.51,1212.82 105.66,1211.26 105.82,1209.67 105.98,1208.07 106.15,1206.44 106.32,1204.80 106.49,1203.13 106.68,1201.46 106.86,1199.77 107.05,1198.07 107.25,1196.36 107.45,1194.64 107.65,1192.91 107.86,1191.18 108.07,1189.44 108.29,1187.70 108.52,1185.95 108.74,1184.21 108.98,1182.46 109.21,1180.72 109.46,1178.97 109.70,1177.23 109.95,1175.50 110.21,1173.76 110.47,1172.04 110.74,1170.32 111.01,1168.61 111.28,1166.90 111.56,1165.20 111.85,1163.52 112.14,1161.84 112.43,1160.17 112.73,1158.52 113.03,1156.87 113.34,1155.24 113.65,1153.62 113.97,1152.01 114.29,1150.42 114.62,1148.84 114.95,1147.27 115.29,1145.72 115.63,1144.18 115.97,1142.65 116.32,1141.14 116.68,1139.65 117.04,1138.17 117.40,1136.71 117.77,1135.26 118.14,1133.83 118.52,1132.41 118.90,1131.01 119.29,1129.62 119.69,1128.25 120.08,1126.89 120.48,1125.56 120.89,1124.23 121.30,1122.93 121.72,1121.63 122.14,1120.36 122.56,1119.10 122.99,1117.85 123.43,1116.62 123.87,1115.41 124.31,1114.21 124.76,1113.03 125.22,1111.86 125.67,1110.71 126.14,1109.57 126.61,1108.45 127.08,1107.34 127.55,1106.25 128.04,1105.17 128.52,1104.10 129.01,1103.05 129.51,1102.01 130.01,1100.99 130.52,1099.98 131.03,1098.99 131.54,1098.00 132.06,1097.04 132.58,1096.08 133.11,1095.14 133.65,1094.21 134.19,1093.29 134.73,1092.39 135.28,1091.49 135.83,1090.61 136.39,1089.75 136.95,1088.89 137.51,1088.05 138.08,1087.21 138.66,1086.39 139.24,1085.58 139.83,1084.78 140.42,1084.00 141.01,1083.22 141.61,1082.45 142.21,1081.70 142.82,1080.95 143.44,1080.22 144.06,1079.49 144.68,1078.78 145.31,1078.07 145.94,1077.38 146.57,1076.69 147.22,1076.01 147.86,1075.35 148.51,1074.69 149.17,1074.04 149.83,1073.40 150.50,1072.77 151.17,1072.15 151.84,1071.53 152.52,1070.92 153.20,1070.33 153.89,1069.74 154.59,1069.15 155.28,1068.58 155.99,1068.01 156.69,1067.45 157.41,1066.90 158.12,1066.36 158.84,1065.82 159.57,1065.29 160.30,1064.77 161.04,1064.25 161.78,1063.74 162.52,1063.24 163.27,1062.75 164.03,1062.26 164.79,1061.78 165.55,1061.30 166.32,1060.83 167.09,1060.36 167.87,1059.91 168.65,1059.45 169.44,1059.01 170.23,1058.57 171.03,1058.13 171.83,1057.70 172.64,1057.28 173.45,1056.86 174.26,1056.45 175.08,1056.04 175.91,1055.64 176.74,1055.24 177.57,1054.85 178.41,1054.46 179.26,1054.08 180.10,1053.70 180.96,1053.33 181.82,1052.96 182.68,1052.60 183.55,1052.24 184.42,1051.88 185.29,1051.53 186.18,1051.19 187.06,1050.84 187.95,1050.51 188.85,1050.17 189.75,1049.84 190.65,1049.52 191.56,1049.20 192.48,1048.88 193.40,1048.56 194.32,1048.25 195.25,1047.95 196.18,1047.64 197.12,1047.34 198.06,1047.05 199.01,1046.76 199.96,1046.47 200.92,1046.18 201.88,1045.90 202.85,1045.62 203.82,1045.35 204.79,1045.07 205.77,1044.81 206.76,1044.54 207.75,1044.28 208.74,1044.02 209.74,1043.76 210.74,1043.51 211.75,1043.25 212.77,1043.01 213.78,1042.76 214.81,1042.52 215.83,1042.28 216.86,1042.04 217.90,1041.81 218.94,1041.57 219.99,1041.35 221.04,1041.12 222.09,1040.89 223.15,1040.67 224.22,1040.45 225.29,1040.24 226.36,1040.02 227.44,1039.81 228.53,1039.60 229.61,1039.39 230.71,1039.19 231.80,1038.98 232.91,1038.78 234.01,1038.58 235.13,1038.39 236.24,1038.19 237.36,1038.00 238.49,1037.81 239.62,1037.62 240.75,1037.43 241.89,1037.25 243.04,1037.07 244.19,1036.89 245.34,1036.71 246.50,1036.53 247.67,1036.35 248.83,1036.18 250.01,1036.01 251.18,1035.84 252.37,1035.67 253.55,1035.51 254.75,1035.34 255.94,1035.18 257.14,1035.02 258.35,1034.86 259.56,1034.70 260.77,1034.54 261.99,1034.39 263.22,1034.23 264.45,1034.08 265.68,1033.93 266.92,1033.78 268.16,1033.64 269.41,1033.49 270.67,1033.35 271.92,1033.20 273.18,1033.06 274.45,1032.92 275.72,1032.78 277.00,1032.64 278.28,1032.51 279.57,1032.37 280.86,1032.24 282.15,1032.11 283.45,1031.98 284.76,1031.85 286.07,1031.72 287.38,1031.59 288.70,1031.46 290.02,1031.34 291.35,1031.22 292.68,1031.09 294.02,1030.97 295.36,1030.85 296.71,1030.73 298.06,1030.61 299.42,1030.50 300.78,1030.38 302.14,1030.27 303.51,1030.15 304.89,1030.04 306.27,1029.93 307.65,1029.82 309.04,1029.71 310.44,1029.60 311.83,1029.49 313.24,1029.38 314.65,1029.28 316.06,1029.17 317.48,1029.07 318.90,1028.97 320.32,1028.87 321.76,1028.76 323.19,1028.66 324.63,1028.56 326.08,1028.47 327.53,1028.37 328.98,1028.27 330.44,1028.18 331.91,1028.08 333.38,1027.99 334.85,1027.89 336.33,1027.80 337.81,1027.71 339.30,1027.62 340.79,1027.53 342.29,1027.44 343.79,1027.35 345.30,1027.26 346.81,1027.17 348.33,1027.09 349.85,1027.00 351.37,1026.92 352.90,1026.83 354.44,1026.75 355.98,1026.66 357.52,1026.58 359.07,1026.50 360.62,1026.42 362.18,1026.34 363.75,1026.26 365.31,1026.18 366.89,1026.10 368.46,1026.03 370.04,1025.95 371.63,1025.87 373.22,1025.80 374.82,1025.72 376.42,1025.65 378.02,1025.57 379.63,1025.50 381.25,1025.43 382.87,1025.35 384.49,1025.28 386.12,1025.21 387.76,1025.14 389.39,1025.07 391.04,1025.00 392.68,1024.93 394.34,1024.87 395.99,1024.80 397.66,1024.73 399.32,1024.66 400.99,1024.60 402.67,1024.53 404.35,1024.47 406.04,1024.40 407.73,1024.34 409.42,1024.27 411.12,1024.21 412.82,1024.15 414.53,1024.09 416.25,1024.03 417.96,1023.96 419.69,1023.90 421.41,1023.84 423.15,1023.78 424.88,1023.72 426.63,1023.67 428.37,1023.61 430.12,1023.55 431.88,1023.49 433.64,1023.43 435.41,1023.38 437.17,1023.32 438.95,1023.27 440.73,1023.21 442.51,1023.15 444.30,1023.10 446.10,1023.05 447.89,1022.99 449.70,1022.94 451.50,1022.89 453.32,1022.83 455.13,1022.78 456.95,1022.73 458.78,1022.68 460.61,1022.63 462.45,1022.57 464.29,1022.52 466.13,1022.47 467.98,1022.42 469.84,1022.37 471.70,1022.33 473.56,1022.28 475.43,1022.23 477.30,1022.18 479.18,1022.13" fill="none" stroke="#000" stroke-width="3.5" stroke-linecap="round" stroke-linejoin="round"/>
<polygon points="475.30,1027.04 486.20,1027.04 480.75,1037.24"/>
<path d="M291.93,1042.36V1051.54M286.78,1051.54h10.3" fill="none" stroke="#000" stroke-width="2.2" stroke-linecap="round"/>
<polygon points="286.48,1037.26 297.38,1037.26 291.93,1047.46"/>
<path d="M197.51,1035.55V1050.76M192.36,1035.55h10.3M192.36,1050.76h10.3" fill="none" stroke="#000" stroke-width="2.2" stroke-linecap="round"/>
<polygon points="192.06,1038.05 202.96,1038.05 197.51,1048.25"/>
<polygon points="144.86,1043.30 155.76,1043.30 150.31,1053.50"/>
<path d="M126.70,1065.70V1110.81M121.55,1065.70h10.3M121.55,1110.81h10.3" fill="none" stroke="#000" stroke-width="2.2" stroke-linecap="round"/>
<polygon points="121.25,1083.16 132.15,1083.16 126.70,1093.36"/>
<path d="M114.90,1140.71V1164.31M109.75,1140.71h10.3M109.75,1164.31h10.3" fill="none" stroke="#000" stroke-width="2.2" stroke-linecap="round"/>
<polygon points="109.45,1147.41 120.35,1147.41 114.90,1157.61"/>
<polygon points="103.55,1199.34 114.45,1199.34 109.00,1209.54"/>
<path d="M106.05,1218.86V1226.73M100.90,1218.86h10.3M100.90,1226.73h10.3" fill="none" stroke="#000" stroke-width="2.2" stroke-linecap="round"/>
<polygon points="100.60,1217.69 111.50,1217.69 106.05,1227.89"/>
<path d="M104.58,1229.35V1234.59M99.43,1229.35h10.3M99.43,1234.59h10.3" fill="none" stroke="#000" stroke-width="2.2" stroke-linecap="round"/>
<polygon points="99.13,1226.87 110.03,1226.87 104.58,1237.07"/>
<path d="M103.83,1234.59V1239.84M98.68,1234.59h10.3M98.68,1239.84h10.3" fill="none" stroke="#000" stroke-width="2.2" stroke-linecap="round"/>
<polygon points="98.38,1232.12 109.28,1232.12 103.83,1242.32"/>
<path d="M103.47,1238.53V1243.77M98.32,1238.53h10.3M98.32,1243.77h10.3" fill="none" stroke="#000" stroke-width="2.2" stroke-linecap="round"/>
<polygon points="98.02,1236.05 108.92,1236.05 103.47,1246.25"/>
<path d="M103.28,1241.15V1246.39M98.13,1241.15h10.3M98.13,1246.39h10.3" fill="none" stroke="#000" stroke-width="2.2" stroke-linecap="round"/>
<polygon points="97.83,1238.67 108.73,1238.67 103.28,1248.87"/>
<path d="M480.75,1239.84V1229.87M475.60,1229.87h10.3" fill="none" stroke="#000" stroke-width="2.2" stroke-linecap="round"/>
<polygon points="475.30,1244.94 486.20,1244.94 480.75,1234.74"/>
<path d="M197.51,1241.15V1217.02M192.36,1217.02h10.3" fill="none" stroke="#000" stroke-width="2.2" stroke-linecap="round"/>
<polygon points="192.06,1246.25 202.96,1246.25 197.51,1236.05"/>
<path d="M106.05,1237.22V1245.08M100.90,1237.22h10.3M100.90,1245.08h10.3" fill="none" stroke="#000" stroke-width="2.2" stroke-linecap="round"/>
<polygon points="100.60,1246.25 111.50,1246.25 106.05,1236.05"/>
<path d="M103.83,1237.22V1242.46M98.68,1237.22h10.3M98.68,1242.46h10.3" fill="none" stroke="#000" stroke-width="2.2" stroke-linecap="round"/>
<polygon points="98.38,1244.94 109.28,1244.94 103.83,1234.74"/>
<path d="M104.58,1241.15V1246.39M99.43,1241.15h10.3M99.43,1246.39h10.3" fill="none" stroke="#000" stroke-width="2.2" stroke-linecap="round"/>
<polygon points="99.13,1248.87 110.03,1248.87 104.58,1238.67"/>
</g>
</svg></body></html>
